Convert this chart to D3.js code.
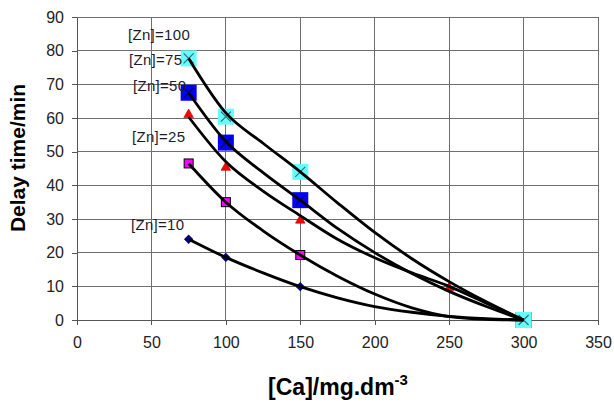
<!DOCTYPE html>
<html><head><meta charset="utf-8">
<script src="https://cdn.jsdelivr.net/npm/d3@7"></script>
<style>body{margin:0;background:#fff;} svg{display:block;font-family:"Liberation Sans",Arial,sans-serif;}</style>
</head><body><svg id="c" width="614" height="403"></svg>
<script>
// ---- data ----
const xTickValues = [0,50,100,150,200,250,300,350];
const yTickValues = [0,10,20,30,40,50,60,70,80,90];
const seriesNames = ["[Zn]=10","[Zn]=25","[Zn]=50","[Zn]=75","[Zn]=100"];
// measured points
const ca10 = [75,100,150,300];      const delay10 = [24,18.6,9.9,0];
const ca25 = [75,100,150,300];      const delay25 = [46.5,35,19.3,0];
const ca50 = [75,100,150,250,300];  const delay50 = [61.2,45.5,29.8,9.7,0];
const ca75 = [75,100,150,300];      const delay75 = [67.5,52.7,35.6,0];
const ca100 = [75,100,150,300];     const delay100 = [77.7,60.4,44,0];
// trend curves
const trendCa = [75,100,125,150,175,200,225,250,275,300];
const trend10  = [24,18.6,14,9.9,6.6,4,2.3,1.1,0.4,0];
const trend25  = [46.5,35,26.5,19.3,13,7.7,3.6,1,0.2,0];
const trend50  = [60.3,47,38.3,31,24,18.5,14,10,5,0];
const trend75  = [67.5,53,43.8,35.6,27.2,20,13.8,8.5,4,0];
const trend100 = [77.7,61.5,52.5,44,34.8,26,18.2,11.4,5.4,0];

// ---- layout ----
const svg = d3.select("#c");
const m = {l:77, r:16, t:17, b:83};
const W = 614, H = 403;
const x = d3.scaleLinear().domain([0,350]).range([m.l, W-m.r]);
const y = d3.scaleLinear().domain([0,90]).range([H-m.b, m.t]);

// gridlines
const grid = svg.append("g").attr("stroke","#6e6e6e").attr("stroke-width",1).attr("shape-rendering","crispEdges");
grid.selectAll(".gy").data(yTickValues.slice(1)).join("line")
  .attr("x1",x(0)).attr("x2",x(350)).attr("y1",d=>y(d)).attr("y2",d=>y(d));
grid.selectAll(".gx").data(xTickValues.slice(1)).join("line")
  .attr("x1",d=>x(d)).attr("x2",d=>x(d)).attr("y1",y(0)).attr("y2",y(90));

// axes
const yAxis = svg.append("g").attr("transform",`translate(${x(0)},0)`)
  .call(d3.axisLeft(y).tickValues(yTickValues).tickSize(5).tickPadding(8).tickSizeOuter(0));
const xAxis = svg.append("g").attr("transform",`translate(0,${y(0)})`)
  .call(d3.axisBottom(x).tickValues(xTickValues).tickSize(5).tickPadding(12).tickSizeOuter(0));
[yAxis,xAxis].forEach(a=>{
  a.select(".domain").attr("stroke","#555").attr("shape-rendering","crispEdges");
  a.selectAll(".tick line").attr("stroke","#555").attr("shape-rendering","crispEdges");
  a.selectAll("text").attr("fill","#222").style("font-size","16px").style("font-family","'Liberation Sans',Arial,sans-serif");
});

// markers
const mk = svg.append("g");
function pts(xs,ys){return xs.map((v,i)=>[v,ys[i]]);}
// diamonds
mk.selectAll(".d").data(pts(ca10,delay10)).join("path")
  .attr("d",d3.symbol(d3.symbolSquare,44))
  .attr("transform",d=>`translate(${x(d[0])},${y(d[1])}) rotate(45)`)
  .attr("fill","#000080");
// magenta squares
mk.selectAll(".m").data(pts(ca25,delay25)).join("rect")
  .attr("x",d=>x(d[0])-4.5).attr("y",d=>y(d[1])-4.5).attr("width",9).attr("height",9)
  .attr("fill","#ff00ff").attr("stroke","#000").attr("stroke-width",1);
// red triangles
mk.selectAll(".t").data(pts(ca50,delay50)).join("path")
  .attr("d",d=>{const cx=x(d[0]),cy=y(d[1]);return `M${cx},${cy-5}L${cx+4.8},${cy+3.5}L${cx-4.8},${cy+3.5}Z`;})
  .attr("fill","#ff0000").attr("stroke","#b00000").attr("stroke-width",0.6);
// x-squares
function xSquares(data, fill, xcol){
  const g = mk.append("g");
  const s = g.selectAll("g").data(data).join("g").attr("transform",d=>`translate(${x(d[0])},${y(d[1])})`);
  s.append("rect").attr("x",-8).attr("y",-8).attr("width",16).attr("height",16).attr("fill",fill);
  s.append("path").attr("d","M-5,-5L5,5M5,-5L-5,5").attr("stroke",xcol).attr("stroke-width",1.2);
}
xSquares(pts(ca75,delay75),"#0000ff","#000060");
xSquares(pts(ca100,delay100),"#66ffff","#2f6f78");

// trend lines
const line = d3.line().x(d=>x(d[0])).y(d=>y(d[1])).curve(d3.curveMonotoneX);
const trends = [trend10,trend25,trend50,trend75,trend100];
svg.append("g").selectAll("path").data(trends).join("path")
  .attr("d",t=>line(pts(trendCa,t)))
  .attr("fill","none").attr("stroke","#000").attr("stroke-width",2.8).attr("stroke-linejoin","round");

// series labels
const labelPos = [[131,230],[132,142],[133,91],[129,65],[128,40]];
svg.append("g").selectAll("text").data(seriesNames).join("text")
  .attr("x",(d,i)=>labelPos[i][0]).attr("y",(d,i)=>labelPos[i][1])
  .text(d=>d).attr("fill","#1c1c2c").style("font-size","15px").style("letter-spacing","0.3px");

// axis titles
svg.append("text").attr("transform","translate(25,158) rotate(-90)").attr("text-anchor","middle")
  .style("font-size","21px").style("font-weight","bold").attr("fill","#000").text("Delay time/min");
const xt = svg.append("text").attr("x",338).attr("y",395).attr("text-anchor","middle")
  .style("font-size","23px").style("font-weight","bold").attr("fill","#000");
xt.append("tspan").text("[Ca]/mg.dm");
xt.append("tspan").attr("dy",-10).style("font-size","15px").text("-3");
</script></body></html>
